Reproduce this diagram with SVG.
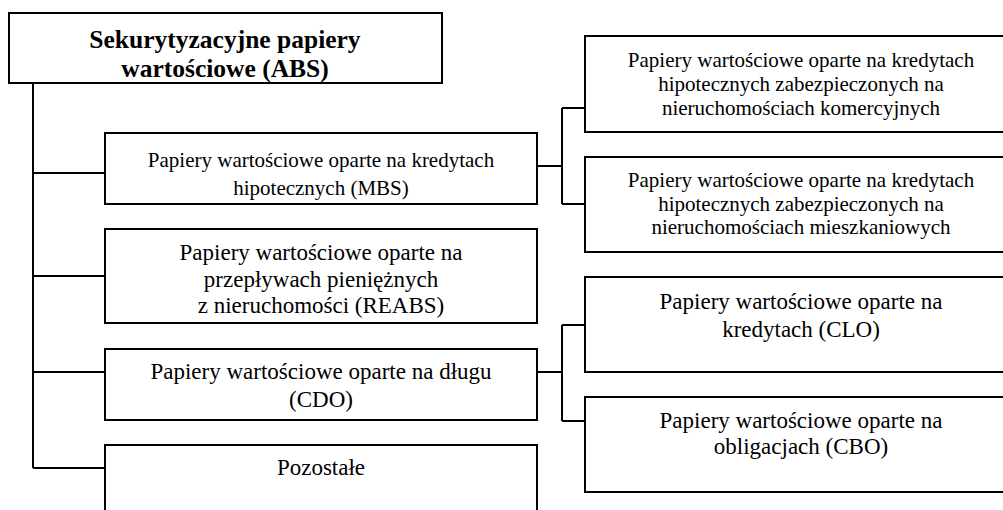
<svg xmlns="http://www.w3.org/2000/svg" width="1003" height="510" viewBox="0 0 1003 510">
<style>
.box{fill:#fff;stroke:#000;stroke-width:2}
.con{fill:none;stroke:#000;stroke-width:2}
.t{font-family:"Liberation Serif","Times New Roman",serif;fill:#000;text-anchor:middle}
.ti{font-size:25.5px;font-weight:bold}
.a{font-size:21px}
.b{font-size:23px}
</style>
<defs>
<clipPath id="clipTitle"><rect x="9" y="13" width="433" height="69"/></clipPath>
</defs>
<rect x="0" y="0" width="1003" height="510" fill="#fff"/>
<g id="connectors">
<path class="con" d="M33 83V468M33 173H105M33 276H105M33 372H105M33 468H105"/>
<path class="con" d="M537 166H562M562 108V204M562 108H585M562 204H585"/>
<path class="con" d="M537 372H562M562 325V421M562 325H585M562 421H585"/>
</g>
<g id="abs">
<rect class="box" x="9" y="13" width="433" height="70"/>
<g clip-path="url(#clipTitle)">
<text class="t ti" x="225" y="48">Sekurytyzacyjne papiery</text>
<text class="t ti" x="225" y="77">wartościowe (ABS)</text>
</g>
</g>
<g id="mbs">
<rect class="box" x="105" y="133" width="432" height="71"/>
<text class="t a" x="321" y="167">Papiery wartościowe oparte na kredytach</text>
<text class="t a" x="321" y="195">hipotecznych (MBS)</text>
</g>
<g id="reabs">
<rect class="box" x="105" y="229" width="432" height="94"/>
<text class="t b" x="321" y="260">Papiery wartościowe oparte na</text>
<text class="t b" x="321" y="287">przepływach pieniężnych</text>
<text class="t b" x="321" y="313">z nieruchomości (REABS)</text>
</g>
<g id="cdo">
<rect class="box" x="105" y="349" width="432" height="71"/>
<text class="t b" x="321" y="379">Papiery wartościowe oparte na długu</text>
<text class="t b" x="321" y="407">(CDO)</text>
</g>
<g id="other">
<rect class="box" x="105" y="445" width="432" height="80"/>
<text class="t b" x="321" y="475">Pozostałe</text>
</g>
<g id="cmbs">
<rect class="box" x="585" y="36" width="432" height="96"/>
<text class="t a" x="801" y="67">Papiery wartościowe oparte na kredytach</text>
<text class="t a" x="801" y="91">hipotecznych zabezpieczonych na</text>
<text class="t a" x="801" y="115">nieruchomościach komercyjnych</text>
</g>
<g id="rmbs">
<rect class="box" x="585" y="157" width="432" height="95"/>
<text class="t a" x="801" y="187">Papiery wartościowe oparte na kredytach</text>
<text class="t a" x="801" y="211">hipotecznych zabezpieczonych na</text>
<text class="t a" x="801" y="234">nieruchomościach mieszkaniowych</text>
</g>
<g id="clo">
<rect class="box" x="585" y="277" width="432" height="95"/>
<text class="t b" x="801" y="309">Papiery wartościowe oparte na</text>
<text class="t b" x="801" y="337">kredytach (CLO)</text>
</g>
<g id="cbo">
<rect class="box" x="585" y="397" width="432" height="95"/>
<text class="t b" x="801" y="428">Papiery wartościowe oparte na</text>
<text class="t b" x="801" y="454">obligacjach (CBO)</text>
</g>
</svg>
